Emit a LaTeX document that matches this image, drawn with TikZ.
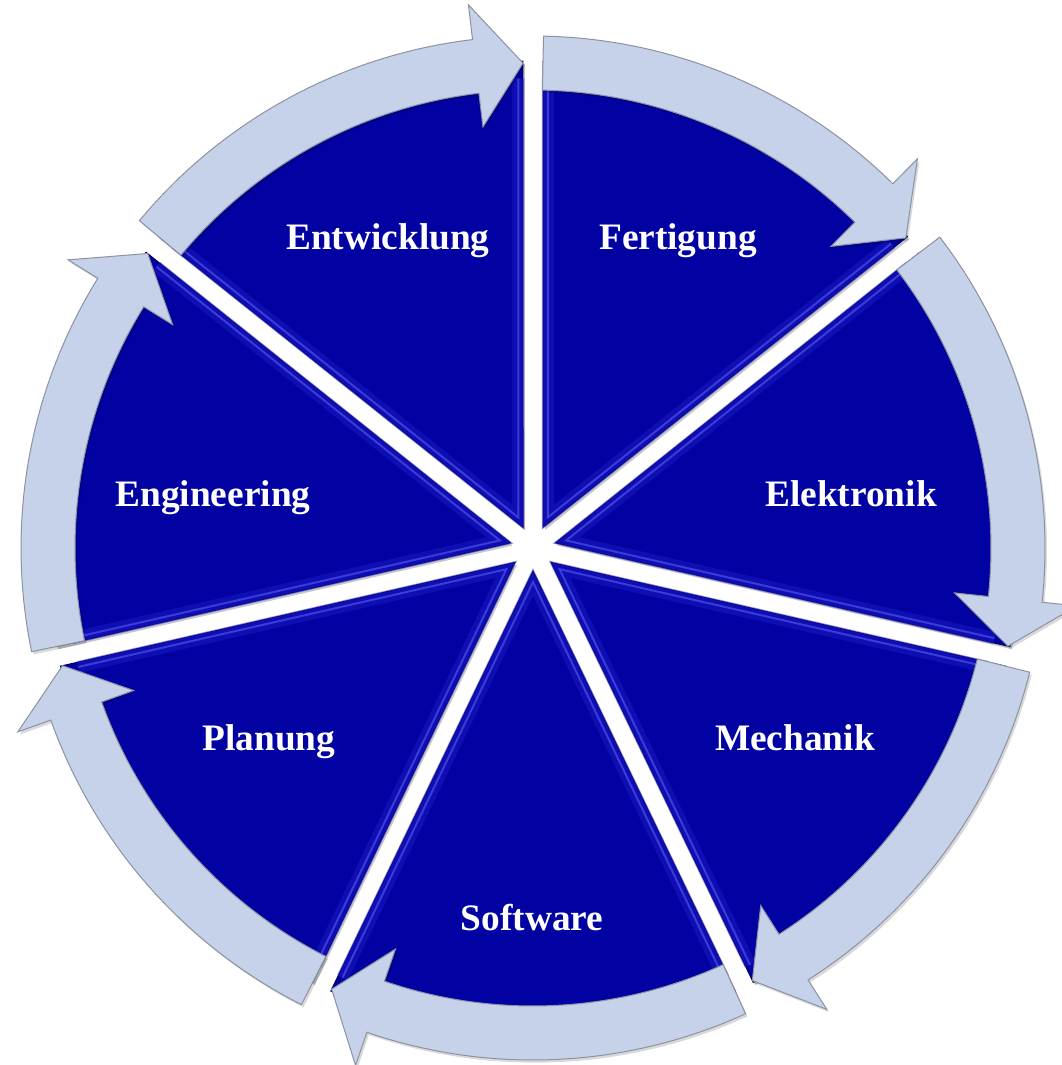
\documentclass[tikz,border=0pt]{standalone}
\usepackage{fontspec}
\setmainfont{Liberation Serif}

\tikzset{every picture/.style={line width=0.75pt}}
\tikzset{
  seg/.style={fill={rgb, 255:red, 2; green, 2; blue, 162}, draw={rgb, 255:red, 0; green, 0; blue, 100}, line width=0.75,
    preaction={fill=black, fill opacity=0.22, transform canvas={shift={(1.5pt,-2pt)}}}},
  bevel/.style={draw={rgb, 255:red, 90; green, 90; blue, 245}, draw opacity=0.6, line width=1.5, line join=miter,
    preaction={draw={rgb, 255:red, 30; green, 30; blue, 200}, draw opacity=0.45, line width=9}},
  ringarrow/.style={fill={rgb, 255:red, 198; green, 210; blue, 233}, draw={rgb, 255:red, 140; green, 146; blue, 162}, line width=0.75, line join=miter,
    preaction={fill=black, fill opacity=0.15, transform canvas={shift={(1.5pt,-2pt)}}}},
  segtext/.style={text=white, font=\fontsize{28}{34}\selectfont\bfseries, inner sep=0.75pt, anchor=base}
}

\begin{document}
\begin{tikzpicture}[x=0.75pt,y=0.75pt,yscale=-1,xscale=1]
\useasboundingbox (0,0) rectangle (1062,1065);

\coordinate (C) at (533,548);

\begin{scope}[shift={(533,548)},yscale=-1]
%Shape: Sector Fertigung
\draw [seg] (64.29:23.05) -- (88.82:487) arc[start angle=88.82, end angle=39.75, radius=487] -- cycle ;
\draw [bevel] (88.2:470) -- (64.29:34) -- (40.37:470) ;
%Shape: Sector Elektronik
\draw [seg] (12.86:23.05) -- (37.39:487) arc[start angle=37.39, end angle=-11.68, radius=487] -- cycle ;
\draw [bevel] (36.77:470) -- (12.86:34) -- (-11.06:470) ;
%Shape: Sector Mechanik
\draw [seg] (-38.57:23.05) -- (-14.04:487) arc[start angle=-14.04, end angle=-63.11, radius=487] -- cycle ;
\draw [bevel] (-14.66:470) -- (-38.57:34) -- (-62.49:470) ;
%Shape: Sector Software
\draw [seg] (-90:23.05) -- (-65.47:487) arc[start angle=-65.47, end angle=-114.53, radius=487] -- cycle ;
\draw [bevel] (-66.09:470) -- (-90:34) -- (-113.91:470) ;
%Shape: Sector Planung
\draw [seg] (-141.43:23.05) -- (-116.89:487) arc[start angle=-116.89, end angle=-165.96, radius=487] -- cycle ;
\draw [bevel] (-117.51:470) -- (-141.43:34) -- (-165.34:470) ;
%Shape: Sector Engineering
\draw [seg] (-192.86:23.05) -- (-168.32:487) arc[start angle=-168.32, end angle=-217.39, radius=487] -- cycle ;
\draw [bevel] (-168.94:470) -- (-192.86:34) -- (-216.77:470) ;
%Shape: Sector Entwicklung
\draw [seg] (-244.29:23.05) -- (-219.75:487) arc[start angle=-219.75, end angle=-268.82, radius=487] -- cycle ;
\draw [bevel] (-220.37:470) -- (-244.29:34) -- (-268.20:470) ;

%Shape: Arc Arrow Fertigung
\draw [ringarrow] (88.82:512) arc[start angle=88.82, end angle=45.35, radius=512] -- (45.35:547) -- (39.75:485) -- (45.35:424) -- (45.35:458) arc[start angle=45.35, end angle=88.82, radius=458] -- cycle ;
%Shape: Arc Arrow Elektronik
\draw [ringarrow] (37.39:512) arc[start angle=37.39, end angle=-6.08, radius=512] -- (-6.08:547) -- (-11.68:485) -- (-6.08:424) -- (-6.08:458) arc[start angle=-6.08, end angle=37.39, radius=458] -- cycle ;
%Shape: Arc Arrow Mechanik
\draw [ringarrow] (-14.04:512) arc[start angle=-14.04, end angle=-57.51, radius=512] -- (-57.51:547) -- (-63.11:485) -- (-57.51:424) -- (-57.51:458) arc[start angle=-57.51, end angle=-14.04, radius=458] -- cycle ;
%Shape: Arc Arrow Software
\draw [ringarrow] (-65.47:512) arc[start angle=-65.47, end angle=-108.93, radius=512] -- (-108.93:547) -- (-114.53:485) -- (-108.93:424) -- (-108.93:458) arc[start angle=-108.93, end angle=-65.47, radius=458] -- cycle ;
%Shape: Arc Arrow Planung
\draw [ringarrow] (-116.89:512) arc[start angle=-116.89, end angle=-160.36, radius=512] -- (-160.36:547) -- (-165.96:485) -- (-160.36:424) -- (-160.36:458) arc[start angle=-160.36, end angle=-116.89, radius=458] -- cycle ;
%Shape: Arc Arrow Engineering
\draw [ringarrow] (-168.32:512) arc[start angle=-168.32, end angle=-211.79, radius=512] -- (-211.79:547) -- (-217.39:485) -- (-211.79:424) -- (-211.79:458) arc[start angle=-211.79, end angle=-168.32, radius=458] -- cycle ;
%Shape: Arc Arrow Entwicklung
\draw [ringarrow] (-219.75:512) arc[start angle=-219.75, end angle=-263.22, radius=512] -- (-263.22:547) -- (-268.82:485) -- (-263.22:424) -- (-263.22:458) arc[start angle=-263.22, end angle=-219.75, radius=458] -- cycle ;
\end{scope}

% Text Node
\node (entwicklung) [segtext] at (388,249) {Entwicklung};
% Text Node
\node (fertigung) [segtext] at (678,249) {Fertigung};
% Text Node
\node (elektronik) [segtext] at (851,506) {Elektronik};
% Text Node
\node (engineering) [segtext] at (213,506) {Engineering};
% Text Node
\node (planung) [segtext] at (269,750) {Planung};
% Text Node
\node (mechanik) [segtext] at (795,750) {Mechanik};
% Text Node
\node (software) [segtext] at (532,930) {Software};

\end{tikzpicture}
\end{document}
